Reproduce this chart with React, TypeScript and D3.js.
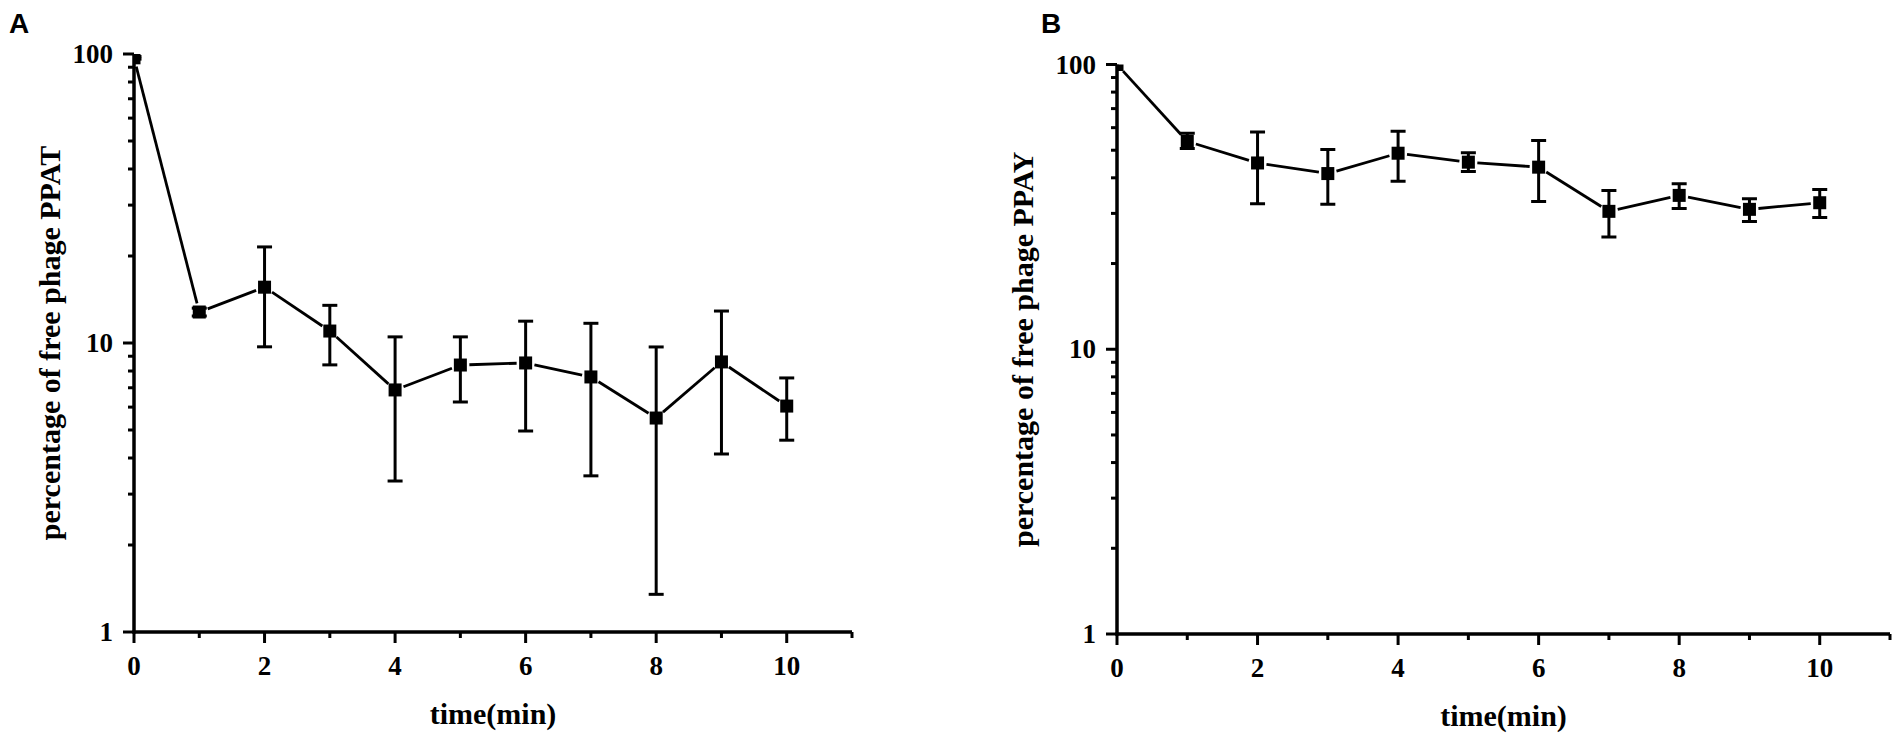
import React from "react";
import * as d3 from "d3";

const time = [0, 1, 2, 3, 4, 5, 6, 7, 8, 9, 10];
const xTicks = [0, 1, 2, 3, 4, 5, 6, 7, 8, 9, 10, 11];
const yMajor = [1, 10, 100];
const yMinor = [2, 3, 4, 5, 6, 7, 8, 9, 20, 30, 40, 50, 60, 70, 80, 90];

const ppatMean = [97, 12.8, 15.6, 11.0, 6.88, 8.39, 8.53, 7.63, 5.5, 8.6, 6.05];
const ppatUpper = [98, 13.2, 21.5, 13.5, 10.5, 10.5, 11.9, 11.7, 9.69, 12.9, 7.57];
const ppatLower = [96, 12.4, 9.7, 8.4, 3.33, 6.25, 4.96, 3.47, 1.35, 4.13, 4.61];

const ppayMean = [100, 53.7, 45.1, 41.4, 48.8, 45.4, 43.6, 30.5, 34.7, 31.0, 32.7];
const ppayUpper = [100, 57.3, 57.9, 50.3, 58.3, 49.0, 54.1, 36.1, 38.1, 33.8, 36.4];
const ppayLower = [100, 50.7, 32.4, 32.3, 38.9, 42.1, 33.0, 24.8, 31.2, 28.1, 29.0];

const SERIF = "'Liberation Serif', 'Times New Roman', serif";
const SANS = "'Liberation Sans', Arial, sans-serif";

type PanelProps = {
  id: string;
  letter: string;
  letterX: number;
  x0: number;
  x11: number;
  y1: number;
  y100: number;
  yLabelX: number;
  yLabel: string;
  mean: number[];
  upper: number[];
  lower: number[];
};

function Panel(p: PanelProps) {
  const x = d3.scaleLinear().domain([0, 11]).range([p.x0, p.x11]);
  const y = d3.scaleLog().domain([1, 100]).range([p.y1, p.y100]);
  const pts = time.map((t, i) => [x(t), y(p.mean[i])] as [number, number]);
  const gap = 9;
  const segs = pts.slice(1).map((b, i) => {
    const a = pts[i];
    const dx = b[0] - a[0];
    const dy = b[1] - a[1];
    const L = Math.hypot(dx, dy);
    const ux = dx / L;
    const uy = dy / L;
    return [a[0] + ux * gap, a[1] + uy * gap, b[0] - ux * gap, b[1] - uy * gap];
  });
  const ms = 13;
  const cap = 7.5;
  const yMid = (p.y1 + p.y100) / 2;
  const clipId = "clip-" + p.id;
  return (
    <g>
      <defs>
        <clipPath id={clipId}>
          <rect x={p.x0} y={p.y100} width={p.x11 - p.x0} height={p.y1 - p.y100} />
        </clipPath>
      </defs>
      <text x={p.letterX} y={33} fontFamily={SANS} fontWeight="bold" fontSize={28} fill="#000">
        {p.letter}
      </text>
      <g clipPath={`url(#${clipId})`}>
        {time.map((t, i) =>
          p.upper[i] > p.lower[i] ? (
            <g key={"e" + i} stroke="#000" strokeWidth={3}>
              <line x1={x(t)} x2={x(t)} y1={y(p.upper[i])} y2={y(p.lower[i])} />
              <line x1={x(t) - cap} x2={x(t) + cap} y1={y(p.upper[i])} y2={y(p.upper[i])} />
              <line x1={x(t) - cap} x2={x(t) + cap} y1={y(p.lower[i])} y2={y(p.lower[i])} />
            </g>
          ) : null
        )}
        {segs.map((s, i) => (
          <line key={"s" + i} x1={s[0]} y1={s[1]} x2={s[2]} y2={s[3]} stroke="#000" strokeWidth={2.8} />
        ))}
        {pts.map((pt, i) => (
          <rect key={"m" + i} x={pt[0] - ms / 2} y={pt[1] - ms / 2} width={ms} height={ms} fill="#000" />
        ))}
      </g>
      <line x1={p.x0} x2={p.x0} y1={p.y1 + 1.5} y2={p.y100} stroke="#000" strokeWidth={3.5} />
      <line x1={p.x0 - 1.5} x2={p.x11} y1={p.y1} y2={p.y1} stroke="#000" strokeWidth={3.5} />
      {yMajor.map((v) => (
        <g key={"ym" + v}>
          <line x1={p.x0 - 11} x2={p.x0} y1={y(v)} y2={y(v)} stroke="#000" strokeWidth={3} />
          <text
            x={p.x0 - 21}
            y={y(v)}
            dy="0.34em"
            textAnchor="end"
            fontFamily={SERIF}
            fontWeight="bold"
            fontSize={27}
            fill="#000"
          >
            {v}
          </text>
        </g>
      ))}
      {yMinor.map((v) => (
        <line key={"yn" + v} x1={p.x0 - 6} x2={p.x0} y1={y(v)} y2={y(v)} stroke="#000" strokeWidth={3} />
      ))}
      {xTicks.map((t) => {
        const major = t % 2 === 0;
        return (
          <g key={"xt" + t}>
            <line x1={x(t)} x2={x(t)} y1={p.y1} y2={p.y1 + (major ? 11 : 6)} stroke="#000" strokeWidth={3} />
            {major && t <= 10 ? (
              <text
                x={x(t)}
                y={p.y1 + 43}
                textAnchor="middle"
                fontFamily={SERIF}
                fontWeight="bold"
                fontSize={27}
                fill="#000"
              >
                {t}
              </text>
            ) : null}
          </g>
        );
      })}
      <text
        x={(p.x0 + p.x11) / 2}
        y={p.y1 + 92}
        textAnchor="middle"
        fontFamily={SERIF}
        fontWeight="bold"
        fontSize={30}
        fill="#000"
      >
        time(min)
      </text>
      <text
        transform={`translate(${p.yLabelX},${yMid}) rotate(-90)`}
        textAnchor="middle"
        fontFamily={SERIF}
        fontWeight="bold"
        fontSize={30}
        fill="#000"
      >
        {p.yLabel}
      </text>
    </g>
  );
}

export default function App() {
  return (
    <svg
      width={1904}
      height={742}
      viewBox="0 0 1904 742"
      style={{ position: "absolute", left: 0, top: 0, background: "#fff" }}
    >
      <rect width={1904} height={742} fill="#fff" />
      <Panel
        id="a"
        letter="A"
        letterX={9}
        x0={134}
        x11={852}
        y1={632}
        y100={54}
        yLabelX={60}
        yLabel="percentage of free phage PPAT"
        mean={ppatMean}
        upper={ppatUpper}
        lower={ppatLower}
      />
      <Panel
        id="b"
        letter="B"
        letterX={1041}
        x0={1117}
        x11={1890}
        y1={634}
        y100={64.5}
        yLabelX={1033}
        yLabel="percentage of free phage PPAY"
        mean={ppayMean}
        upper={ppayUpper}
        lower={ppayLower}
      />
    </svg>
  );
}
